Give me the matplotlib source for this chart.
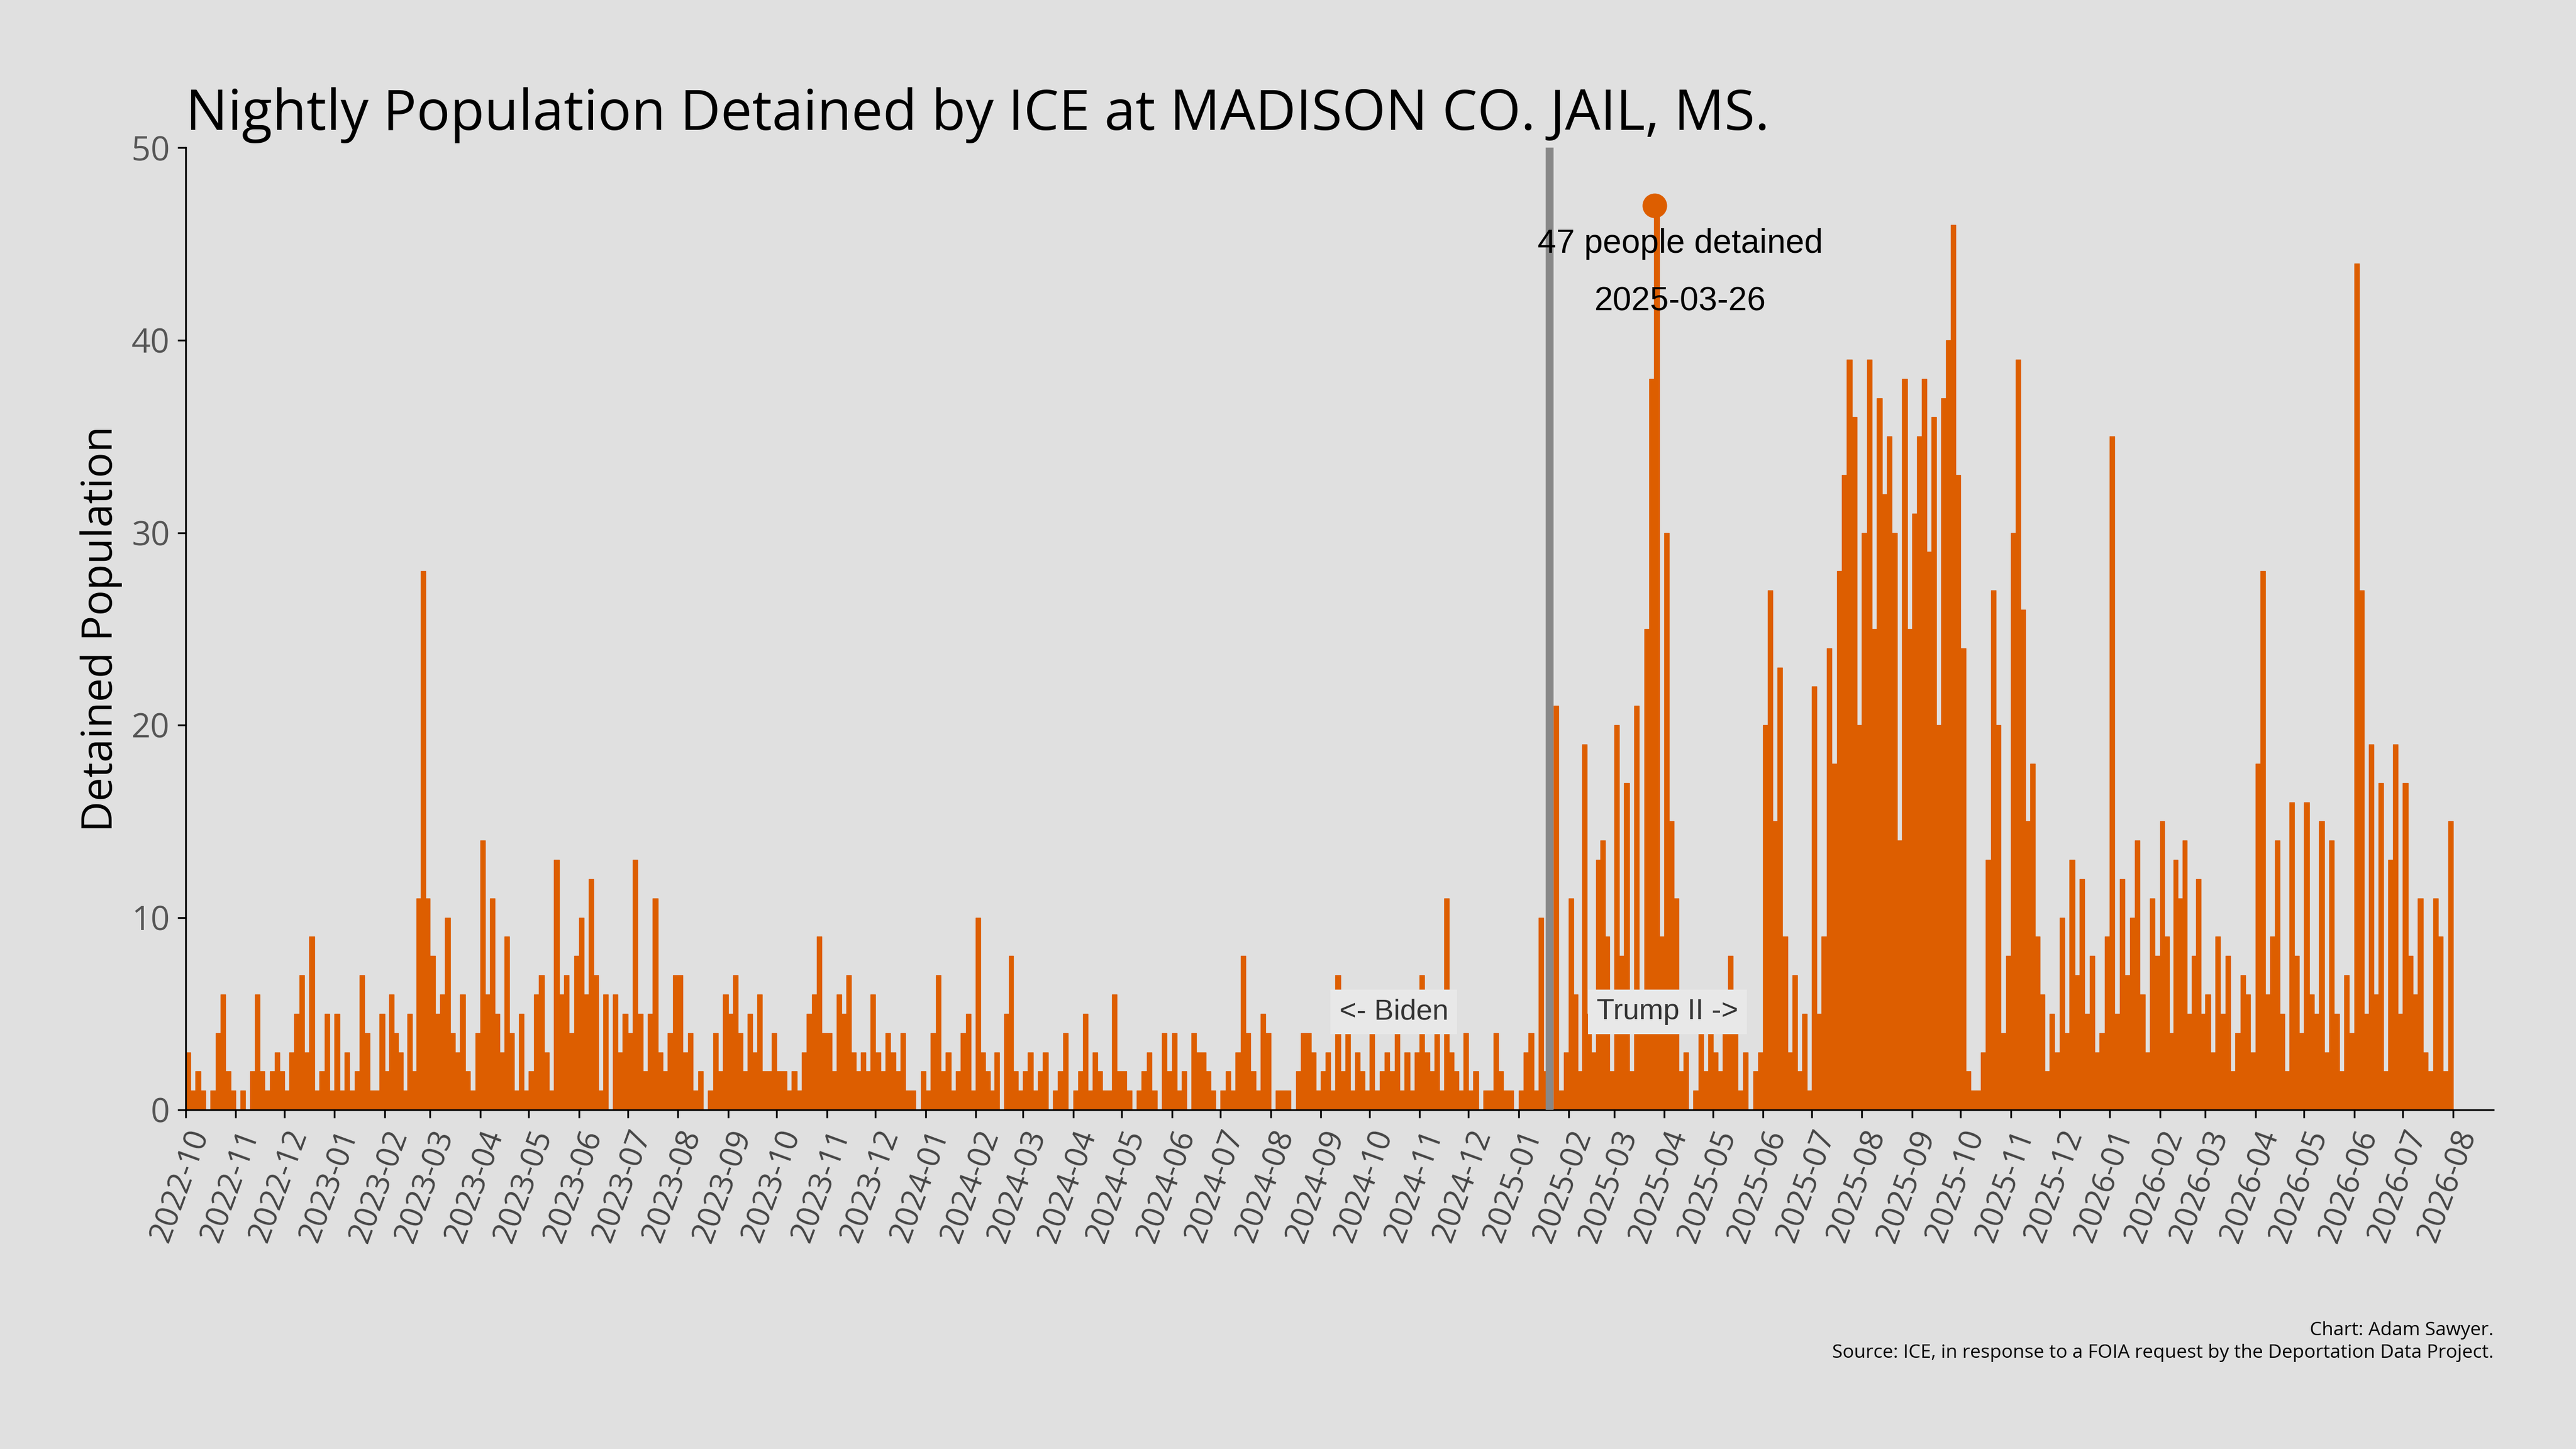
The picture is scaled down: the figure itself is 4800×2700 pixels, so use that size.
import matplotlib
matplotlib.use("Agg")
import matplotlib.pyplot as plt
import matplotlib.dates as mdates
import numpy as np
import pandas as pd

months = pd.date_range("2022-10-01", "2026-07-01", freq="MS")
monthly_values = [
    [3,1,2,1,0,1,4,6,2,1],
    [0,1,0,2,6,2,1,2,3,2],
    [1,3,5,7,3,9,1,2,5,1],
    [5,1,3,1,2,7,4,1,1,5],
    [2,6,4,3,1,5,2,11,28,11],
    [8,5,6,10,4,3,6,2,1,4],
    [14,6,11,5,3,9,4,1,5,1],
    [2,6,7,3,1,13,6,7,4,8],
    [10,6,12,7,1,6,0,6,3,5],
    [4,13,5,2,5,11,3,2,4,7],
    [7,3,4,1,2,0,1,4,2,6],
    [5,7,4,2,5,3,6,2,2,4],
    [2,2,1,2,1,3,5,6,9,4],
    [4,2,6,5,7,3,2,3,2,6],
    [3,2,4,3,2,4,1,1,0,2],
    [1,4,7,2,3,1,2,4,5,1],
    [10,3,2,1,3,0,5,8,2,1],
    [2,3,1,2,3,0,1,2,4,0],
    [1,2,5,1,3,2,1,1,6,2],
    [2,1,0,1,2,3,1,0,4,2],
    [4,1,2,0,4,3,3,2,1,0],
    [1,2,1,3,8,4,2,1,5,4],
    [0,1,1,1,0,2,4,4,3,1],
    [2,3,1,7,2,5,1,3,2,1],
    [4,1,2,3,2,4,1,3,1,3],
    [7,3,2,4,1,11,3,2,1,4],
    [1,2,0,1,1,4,2,1,1,0],
    [1,3,4,1,10,2,0,21,1,3],
    [11,6,2,19,5,3,13,14,9,2],
    [20,8,17,2,21,6,25,38,47,9],
    [30,15,11,2,3,0,1,6,2,5],
    [3,2,5,8,6,1,3,0,2,3],
    [20,27,15,23,9,3,7,2,5,1],
    [22,5,9,24,18,28,33,39,36,20],
    [30,39,25,37,32,35,30,14,38,25],
    [31,35,38,29,36,20,37,40,46,33],
    [24,2,1,1,3,13,27,20,4,8],
    [30,39,26,15,18,9,6,2,5,3],
    [10,4,13,7,12,5,8,3,4,9],
    [35,5,12,7,10,14,6,3,11,8],
    [15,9,4,13,11,14,5,8,12,5],
    [6,3,9,5,8,2,4,7,6,3],
    [18,28,6,9,14,5,2,16,8,4],
    [16,6,5,15,3,14,5,2,7,4],
    [44,27,5,19,6,17,2,13,19,5],
    [17,8,6,11,3,2,11,9,2,15],
]
peak_date = pd.Timestamp("2025-03-26")
peak_value = 47
policy_date = pd.Timestamp("2025-01-20")

BG = "#e0e0e0"
ORANGE = "#dd5e00"
fig = plt.figure(figsize=(16, 9), dpi=300, facecolor=BG)
ax = fig.add_axes([0.072, 0.234, 0.896, 0.664], facecolor=BG)

xs, ws, hs = [], [], []
for m, vals in zip(months, monthly_values):
    nxt = m + pd.offsets.MonthBegin(1)
    days = (nxt - m).days
    step = days / len(vals)
    for i, v in enumerate(vals):
        xs.append(mdates.date2num(m) + i * step + step / 2)
        ws.append(step)
        hs.append(v)
ax.bar(xs, hs, width=ws, color=ORANGE, edgecolor=ORANGE, linewidth=0.3)

ax.axvline(mdates.date2num(policy_date), color="#888888", lw=3.5, zorder=3)
ax.plot([mdates.date2num(peak_date)], [peak_value], "o", color=ORANGE, ms=10, zorder=4)
ax.text(mdates.date2num(peak_date) + 16, 45, f"{peak_value} people detained", ha="center", va="center",
        fontsize=15, family="Liberation Sans")
ax.text(mdates.date2num(peak_date) + 16, 42, peak_date.strftime("%Y-%m-%d"), ha="center", va="center",
        fontsize=15, family="Liberation Sans")
bbox = dict(boxstyle="square,pad=0.3", fc="#e8e8e8", ec="none")
ax.text(mdates.date2num(pd.Timestamp("2024-10-16")), 5.1, "<- Biden", ha="center", va="center",
        fontsize=13, color="#333333", family="Liberation Sans", bbox=bbox)
ax.text(mdates.date2num(pd.Timestamp("2025-04-03")), 5.1, "Trump II ->", ha="center", va="center",
        fontsize=13, color="#333333", family="Liberation Sans", bbox=bbox)

ax.set_xlim(mdates.date2num(pd.Timestamp("2022-10-01")), mdates.date2num(pd.Timestamp("2026-08-26")))
ax.set_ylim(0, 50)
ticks = pd.date_range("2022-10-01", "2026-08-01", freq="MS")
ax.set_xticks(mdates.date2num(ticks))
ax.set_xticklabels([t.strftime("%Y-%m") for t in ticks], rotation=70, ha="right",
                   rotation_mode="anchor", fontsize=14, color="#444444", family="Open Sans")
ax.set_yticks([0, 10, 20, 30, 40, 50])
ax.tick_params(axis="y", labelsize=15, labelcolor="#555555")
for lab in ax.get_yticklabels():
    lab.set_family("Open Sans")
for s in ["top", "right"]:
    ax.spines[s].set_visible(False)
ax.set_ylabel("Detained Population", fontsize=19, family="Open Sans")
ax.set_title("Nightly Population Detained by ICE at MADISON CO. JAIL, MS.", loc="left",
             fontsize=25, family="Open Sans", pad=8)
fig.text(0.968, 0.06, "Chart: Adam Sawyer.\nSource: ICE, in response to a FOIA request by the Deportation Data Project.",
         ha="right", va="bottom", fontsize=8.5, family="Open Sans", linespacing=1.3)
fig.savefig("out.png", dpi=300, facecolor=BG)
